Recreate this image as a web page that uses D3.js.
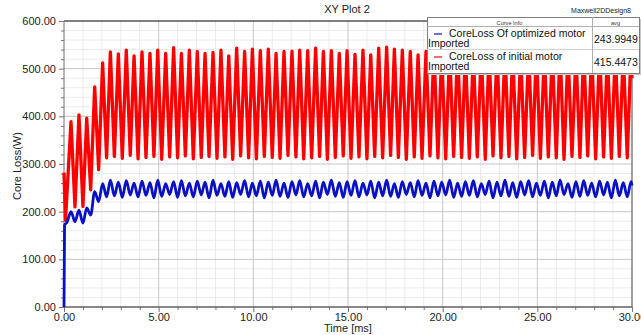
<!DOCTYPE html>
<html>
<head>
<meta charset="utf-8">
<script src="https://cdn.jsdelivr.net/npm/d3@7"></script>
<style>
  body { margin: 0; background: #fff; }
  svg { display: block; font-family: "Liberation Sans", Arial, sans-serif; }
</style>
</head>
<body>
<div id="chart"></div>
<script>
// times (ms) of each ripple peak / trough
const peakTimes = [
  0.37, 0.79, 1.20, 1.62, 2.04, 2.45, 2.87, 3.29, 3.70, 4.12, 4.54, 4.95,
  5.37, 5.79, 6.20, 6.62, 7.04, 7.45, 7.87, 8.29, 8.70, 9.12, 9.54, 9.95,
  10.37, 10.79, 11.20, 11.62, 12.04, 12.45, 12.87, 13.29, 13.70, 14.12, 14.54, 14.95,
  15.37, 15.79, 16.20, 16.62, 17.04, 17.45, 17.87, 18.29, 18.70, 19.12, 19.54, 19.95,
  20.37, 20.79, 21.20, 21.62, 22.04, 22.45, 22.87, 23.29, 23.70, 24.12, 24.54, 24.95,
  25.37, 25.79, 26.20, 26.62, 27.04, 27.45, 27.87, 28.29, 28.70, 29.12, 29.54, 29.95
];
const troughTimes = [
  0.58, 1.00, 1.41, 1.83, 2.25, 2.66, 3.08, 3.50, 3.91, 4.33, 4.75, 5.16,
  5.58, 6.00, 6.41, 6.83, 7.25, 7.66, 8.08, 8.50, 8.91, 9.33, 9.75, 10.16,
  10.58, 11.00, 11.41, 11.83, 12.25, 12.66, 13.08, 13.50, 13.91, 14.33, 14.75, 15.16,
  15.58, 16.00, 16.41, 16.83, 17.25, 17.66, 18.08, 18.50, 18.91, 19.33, 19.75, 20.16,
  20.58, 21.00, 21.41, 21.83, 22.25, 22.66, 23.08, 23.50, 23.91, 24.33, 24.75, 25.16,
  25.58, 26.00, 26.41, 26.83, 27.25, 27.66, 28.08, 28.50, 28.91, 29.33, 29.75
];

// initial motor (red)
const redStart = [[0, 282], [0.08, 182]];
const redPeaks = [
  389, 403, 396, 462, 512, 535, 531, 539, 527, 535, 532, 539, 532, 544, 532, 539, 536,
  532, 534, 539, 527, 543, 536, 541, 538, 541, 532, 536, 537, 539, 538, 543, 536, 538,
  532, 538, 530, 539, 529, 543, 545, 541, 539, 536, 529,
  536, 540, 533, 538, 542, 535, 531, 539, 537, 534, 541, 536, 530, 538, 540, 533, 537,
  542, 535, 532, 539, 536, 541, 534, 538, 533, 537
];
const redTroughs = [
  210, 211, 246, 288, 313,
  316, 312, 318, 311, 314, 316, 310, 315, 313, 317,
  311, 314, 316, 312, 315, 310, 317, 313, 311, 316,
  314, 312, 318, 315, 311, 313, 316, 310, 314, 317,
  312, 315, 311, 316, 313, 318, 314, 310, 315, 312,
  317, 313, 311, 316, 314, 312, 315, 310, 317, 313,
  316, 311, 314, 318, 312, 315, 313, 310, 316, 314,
  317, 311, 315, 312, 316, 313
];
const redEnd = [30, 480];

// optimized motor (blue)
const blueStart = [[0, 0], [0.03, 172], [0.15, 177]];
const bluePeaks = [
  200, 203, 208, 242, 259, 266,
  262, 265, 260, 264, 261, 266, 259, 263, 265, 260,
  264, 262, 266, 259, 263, 261, 265, 260, 264, 262,
  266, 260, 263, 265, 259, 264, 262, 266, 261, 263,
  265, 260, 264, 262, 266, 259, 263, 261, 265, 260,
  264, 262, 266, 260, 263, 265, 259, 264, 262, 266,
  261, 263, 265, 260, 264, 262, 266, 259, 263, 265,
  260, 264, 262, 266, 261, 263
];
const blueTroughs = [
  179, 176, 193, 221, 231,
  233, 230, 235, 231, 234, 229, 232, 236, 230, 233,
  231, 235, 229, 234, 232, 230, 236, 231, 233, 229,
  234, 232, 230, 235, 231, 233, 229, 236, 232, 230,
  234, 231, 235, 229, 233, 232, 230, 236, 231, 234,
  229, 233, 235, 230, 232, 234, 231, 236, 229, 233,
  232, 230, 235, 231, 234, 229, 233, 236, 230, 232,
  234, 231, 235, 229, 233, 231
];
const blueEnd = [30, 255];

const xMajorTicks = [0, 5, 10, 15, 20, 25, 30];
const yMajorTicks = [0, 100, 200, 300, 400, 500, 600];

const legendRows = [
  { label: 'CoreLoss Of optimized motor', sub: 'Imported', avg: '243.9949', color: '#1010c0', width: 1.2 },
  { label: 'CoreLoss of initial motor', sub: 'Imported', avg: '415.4473', color: '#ff6a6a', width: 2 }
];

function buildSeries(start, peaks, troughs, end) {
  const pts = start.map(([t, v]) => ({ t, v }));
  d3.zip(peakTimes, peaks).forEach(([t, v]) => pts.push({ t, v }));
  d3.zip(troughTimes, troughs).forEach(([t, v]) => pts.push({ t, v }));
  pts.push({ t: end[0], v: end[1] });
  return pts.sort((a, b) => a.t - b.t);
}

const W = 641, H = 335;
const plot = { left: 64, right: 632, top: 21, bottom: 307 };

const svg = d3.select('#chart').append('svg')
  .attr('width', W)
  .attr('height', H);

const x = d3.scaleLinear().domain([0, 30]).range([plot.left, plot.right]);
const y = d3.scaleLinear().domain([0, 600]).range([plot.bottom, plot.top]);

const xMinor = d3.range(0, 31, 1).filter(d => d % 5 !== 0);
const yMinor = d3.range(0, 601, 20).filter(d => d % 100 !== 0);

// grid
const grid = svg.append('g');
grid.selectAll('.gx-minor').data(xMinor).enter().append('line')
  .attr('x1', d => x(d)).attr('x2', d => x(d))
  .attr('y1', plot.top).attr('y2', plot.bottom)
  .attr('stroke', '#ebebeb').attr('stroke-width', 1);
grid.selectAll('.gy-minor').data(yMinor).enter().append('line')
  .attr('x1', plot.left).attr('x2', plot.right)
  .attr('y1', d => y(d)).attr('y2', d => y(d))
  .attr('stroke', '#ebebeb').attr('stroke-width', 1);
grid.selectAll('.gx-major').data(xMajorTicks.slice(1, -1)).enter().append('line')
  .attr('x1', d => x(d)).attr('x2', d => x(d))
  .attr('y1', plot.top).attr('y2', plot.bottom)
  .attr('stroke', '#c6c6c6').attr('stroke-width', 1);
grid.selectAll('.gy-major').data(yMajorTicks.slice(1, -1)).enter().append('line')
  .attr('x1', plot.left).attr('x2', plot.right)
  .attr('y1', d => y(d)).attr('y2', d => y(d))
  .attr('stroke', '#c6c6c6').attr('stroke-width', 1);

// axes
const yAxisMinor = svg.append('g')
  .attr('transform', `translate(${plot.left},0)`)
  .call(d3.axisLeft(y).tickValues(yMinor).tickSize(3).tickFormat(''));
const yAxis = svg.append('g')
  .attr('transform', `translate(${plot.left},0)`)
  .call(d3.axisLeft(y).tickValues(yMajorTicks).tickSize(5).tickPadding(3).tickFormat(d3.format('.2f')));
const xAxisMinor = svg.append('g')
  .attr('transform', `translate(0,${plot.bottom})`)
  .call(d3.axisBottom(x).tickValues(xMinor).tickSize(3).tickFormat(''));
const xAxis = svg.append('g')
  .attr('transform', `translate(0,${plot.bottom})`)
  .call(d3.axisBottom(x).tickValues(xMajorTicks).tickSize(5).tickPadding(1).tickFormat(d3.format('.2f')));

[yAxisMinor, yAxis, xAxisMinor, xAxis].forEach(a => {
  a.select('.domain').remove();
  a.selectAll('line').attr('stroke', '#777');
  a.selectAll('text').attr('font-size', 11).attr('fill', '#222')
    .attr('font-family', '"Liberation Sans", Arial, sans-serif');
});

// frame
svg.append('line')
  .attr('x1', plot.left).attr('x2', plot.right)
  .attr('y1', plot.top).attr('y2', plot.top)
  .attr('stroke', '#000').attr('stroke-width', 1);
svg.append('line')
  .attr('x1', plot.right).attr('x2', plot.right)
  .attr('y1', plot.top).attr('y2', plot.bottom)
  .attr('stroke', '#808080').attr('stroke-width', 1.5);
svg.append('line')
  .attr('x1', plot.left).attr('x2', plot.left)
  .attr('y1', plot.top).attr('y2', plot.bottom)
  .attr('stroke', '#707070').attr('stroke-width', 1);
svg.append('line')
  .attr('x1', plot.left).attr('x2', plot.right)
  .attr('y1', plot.bottom).attr('y2', plot.bottom)
  .attr('stroke', '#606060').attr('stroke-width', 1.5);

// curves
const redLine = d3.line().x(d => x(d.t)).y(d => y(d.v));
const blueLine = d3.line().curve(d3.curveMonotoneX).x(d => x(d.t)).y(d => y(d.v));

svg.append('path')
  .datum(buildSeries(redStart, redPeaks, redTroughs, redEnd))
  .attr('d', redLine)
  .attr('fill', 'none')
  .attr('stroke', '#ff0000')
  .attr('stroke-width', 3.3)
  .attr('stroke-linejoin', 'round');

svg.append('path')
  .datum(buildSeries(blueStart, bluePeaks, blueTroughs, blueEnd))
  .attr('d', blueLine)
  .attr('fill', 'none')
  .attr('stroke', '#0a10c4')
  .attr('stroke-width', 2.8);

// titles
svg.append('text')
  .attr('x', 347).attr('y', 13)
  .attr('text-anchor', 'middle')
  .attr('font-size', 11).attr('fill', '#222')
  .text('XY Plot 2');

svg.append('text')
  .attr('x', 631).attr('y', 13)
  .attr('text-anchor', 'end')
  .attr('font-size', 7).attr('fill', '#222')
  .text('Maxwell2DDesign8');

svg.append('text')
  .attr('x', 348).attr('y', 332)
  .attr('text-anchor', 'middle')
  .attr('font-size', 11).attr('fill', '#222')
  .text('Time [ms]');

svg.append('text')
  .attr('transform', 'translate(21,166) rotate(-90)')
  .attr('text-anchor', 'middle')
  .attr('font-size', 11).attr('fill', '#222')
  .text('Core Loss(W)');

// legend table
const lg = svg.append('g').attr('transform', 'translate(427,17)');
const lgW = 212, lgH = 56, colX = 165;

lg.append('rect')
  .attr('x', 2).attr('y', 2).attr('width', lgW).attr('height', lgH)
  .attr('fill', '#c8c8c8');
lg.append('rect')
  .attr('x', 0.5).attr('y', 0.5).attr('width', lgW).attr('height', lgH)
  .attr('fill', '#fff').attr('stroke', '#808080');
lg.append('line')
  .attr('x1', 0).attr('x2', lgW).attr('y1', 9.5).attr('y2', 9.5)
  .attr('stroke', '#b0b0b0');
lg.append('line')
  .attr('x1', 0).attr('x2', lgW).attr('y1', 32.5).attr('y2', 32.5)
  .attr('stroke', '#d0d0d0');
lg.append('line')
  .attr('x1', colX + 0.5).attr('x2', colX + 0.5).attr('y1', 0).attr('y2', lgH)
  .attr('stroke', '#b0b0b0');

lg.append('text')
  .attr('x', colX / 2).attr('y', 7.5)
  .attr('text-anchor', 'middle').attr('font-size', 5.6).attr('fill', '#333')
  .text('Curve Info');
lg.append('text')
  .attr('x', (colX + lgW) / 2).attr('y', 7.5)
  .attr('text-anchor', 'middle').attr('font-size', 5.6).attr('fill', '#333')
  .text('avg');

const rows = lg.selectAll('.lrow').data(legendRows).enter().append('g')
  .attr('class', 'lrow')
  .attr('transform', (d, i) => `translate(0,${10 + i * 23})`);

rows.append('line')
  .attr('x1', 7).attr('x2', 15).attr('y1', 7).attr('y2', 7)
  .attr('stroke', d => d.color).attr('stroke-width', d => d.width);
rows.append('text')
  .attr('x', 22).attr('y', 10)
  .attr('font-size', 10.5).attr('fill', '#111')
  .text(d => d.label);
rows.append('text')
  .attr('x', 1).attr('y', 20)
  .attr('font-size', 10.5).attr('fill', '#111')
  .text(d => d.sub);
rows.append('text')
  .attr('x', colX + 2).attr('y', 16)
  .attr('font-size', 10.5).attr('fill', '#111')
  .text(d => d.avg);
</script>
</body>
</html>
